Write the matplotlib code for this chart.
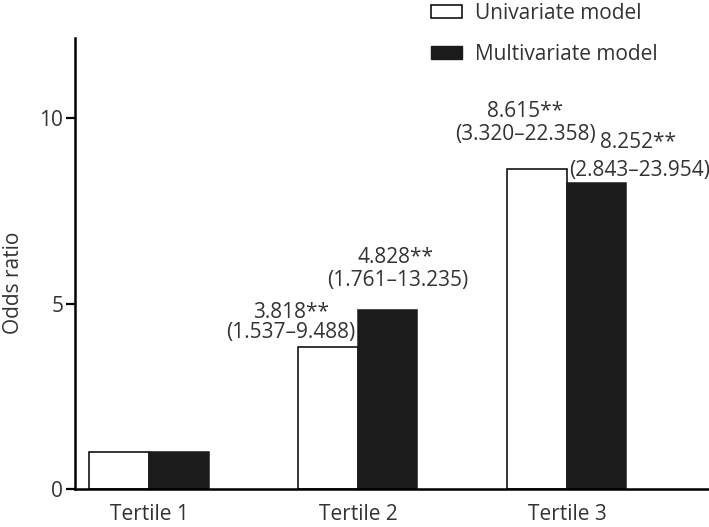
import numpy as np
import matplotlib.pyplot as plt
from matplotlib.patches import Patch

plt.rcParams['font.family'] = ['Open Sans', 'DejaVu Sans']

categories = ["Tertile 1", "Tertile 2", "Tertile 3"]
univariate = [1.0, 3.818, 8.615]
multivariate = [1.0, 4.828, 8.252]
uni_labels = [None, "3.818**", "8.615**"]
uni_ci = [None, "(1.537\u20139.488)", "(3.320\u201322.358)"]
multi_labels = [None, "4.828**", "8.252**"]
multi_ci = [None, "(1.761\u201313.235)", "(2.843\u201323.954)"]

txt_color = "#333333"
bar_black = "#1b1b1b"
fs = 15

fig = plt.figure(figsize=(7.09, 5.27), dpi=100)
ax = fig.add_axes([0.1058, 0.0721, 0.8942, 0.8558])

x = np.arange(len(categories))
w = 0.285
ax.bar(x - w / 2, univariate, w, color="white", edgecolor="black", linewidth=1.1)
ax.bar(x + w / 2, multivariate, w, color=bar_black, edgecolor=bar_black, linewidth=1.1)

# label placement per group (x offset, y of first line, y of second line), by eye
uni_pos = [None, (-0.32, 4.77, 4.23), (-0.2, 10.19, 9.57)]
multi_pos = [None, (0.18, 6.23, 5.63), (0.34, 9.35, 8.6)]
for i in range(len(categories)):
    if uni_labels[i]:
        dx, y1, y2 = uni_pos[i]
        ax.text(x[i] + dx, y1, uni_labels[i], ha="center", va="center",
                fontsize=fs, color=txt_color)
        ax.text(x[i] + dx, y2, uni_ci[i], ha="center", va="center",
                fontsize=fs, color=txt_color)
    if multi_labels[i]:
        dx, y1, y2 = multi_pos[i]
        ax.text(x[i] + dx, y1, multi_labels[i], ha="center", va="center",
                fontsize=fs, color=txt_color)
        ax.text(x[i] + dx + 0.01, y2, multi_ci[i], ha="center", va="center",
                fontsize=fs, color=txt_color, clip_on=False)

ax.set_xlim(-0.354, 2.68)
ax.set_ylim(0, 12.16)
ax.set_yticks([0, 5, 10])
ax.set_xticks(x)
ax.set_xticklabels(categories)
ax.spines["top"].set_visible(False)
ax.spines["right"].set_visible(False)
ax.spines["left"].set_linewidth(1.8)
ax.spines["bottom"].set_linewidth(1.8)
ax.tick_params(axis="y", length=6.5, width=1.6, pad=2, labelsize=fs, labelcolor=txt_color)
ax.tick_params(axis="x", length=0, pad=11, labelsize=fs, labelcolor=txt_color)
ax.set_ylabel("Odds ratio", fontsize=fs, color=txt_color)
ax.yaxis.set_label_coords(-0.081, 0.457)

handles = [Patch(facecolor="white", edgecolor="black", linewidth=1.1, label="Univariate model"),
           Patch(facecolor=bar_black, edgecolor=bar_black, label="Multivariate model")]
fig.legend(handles=handles, loc="upper left", bbox_to_anchor=(431 / 709, 1 - 3 / 527),
           frameon=False, fontsize=fs, handlelength=1.5, handleheight=0.6,
           labelspacing=0.95, handletextpad=0.6, borderpad=0, borderaxespad=0,
           labelcolor=txt_color)

fig.savefig("out.png", dpi=100)
